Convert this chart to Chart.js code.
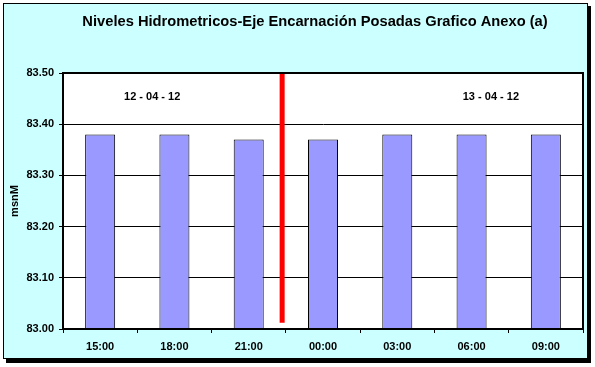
<!DOCTYPE html>
<html>
<head>
<meta charset="utf-8">
<script src="https://cdn.jsdelivr.net/npm/chart.js@4/dist/chart.umd.min.js"></script>
<style>
html,body{margin:0;padding:0;background:#fff;}
#wrap{width:595px;height:367px;position:relative;}
</style>
</head>
<body>
<div id="wrap"><canvas id="c" width="595" height="367"></canvas></div>
<script>
const titleText = 'Niveles Hidrometricos-Eje Encarnación Posadas Grafico Anexo (a)';
const categories = ['15:00', '18:00', '21:00', '00:00', '03:00', '06:00', '09:00'];
const levels = [83.38, 83.38, 83.37, 83.37, 83.38, 83.38, 83.38];
const yTitle = 'msnM';
const dateLabels = ['12 - 04 - 12', '13 - 04 - 12'];
const dateLabelX = [0.70, 5.26];      // category-index units
const dateLabelY = [83.453, 83.453];  // value units
const dividerX = [2.45];              // category-index units (day change)
const dividerRange = [83.5, 83.012];  // value units

const FONT = '"Liberation Sans", Arial, sans-serif';

const decor = {
  id: 'decor',
  beforeDraw(chart) {
    const ctx = chart.ctx;
    const a = chart.chartArea;
    ctx.save();
    ctx.fillStyle = '#ffffff';
    ctx.fillRect(0, 0, chart.width, chart.height);
    ctx.fillStyle = '#000000';
    ctx.fillRect(6, 6, 585, 357);
    ctx.fillStyle = '#CCFFFF';
    ctx.fillRect(3, 3, 585, 356);
    ctx.strokeStyle = '#000000';
    ctx.lineWidth = 1;
    ctx.strokeRect(3.5, 3.5, 584, 355);
    ctx.fillStyle = '#ffffff';
    ctx.fillRect(a.left, a.top, a.right - a.left, a.bottom - a.top);
    ctx.restore();
  },
  afterDatasetsDraw(chart) {
    const ctx = chart.ctx;
    const a = chart.chartArea;
    const xs = chart.scales.x, ys = chart.scales.y;
    ctx.save();
    ctx.strokeStyle = '#FF0000';
    ctx.lineWidth = 5;
    dividerX.forEach(v => {
      const px = xs.getPixelForValue(v);
      ctx.beginPath();
      ctx.moveTo(px, ys.getPixelForValue(dividerRange[0]));
      ctx.lineTo(px, ys.getPixelForValue(dividerRange[1]));
      ctx.stroke();
    });
    ctx.strokeStyle = '#000000';
    ctx.lineWidth = 2;
    ctx.strokeRect(a.left, a.top, a.right - a.left, a.bottom - a.top);
    ctx.fillStyle = '#000000';
    ctx.font = 'bold 11px ' + FONT;
    ctx.textAlign = 'center';
    ctx.textBaseline = 'middle';
    dateLabels.forEach((t, i) => {
      ctx.fillText(t, xs.getPixelForValue(dateLabelX[i]), ys.getPixelForValue(dateLabelY[i]));
    });
    ctx.font = 'bold 14.7px ' + FONT;
    ctx.fillText(titleText, 315, 22);
    ctx.restore();
  }
};

new Chart(document.getElementById('c'), {
  type: 'bar',
  data: {
    labels: categories,
    datasets: [{
      data: levels,
      backgroundColor: '#9999FF',
      borderColor: '#000000',
      borderWidth: 1,
      borderSkipped: 'bottom',
      barPercentage: 0.404,
      categoryPercentage: 1.0
    }]
  },
  options: {
    responsive: false,
    animation: false,
    devicePixelRatio: 1,
    layout: { padding: { top: 73, left: 0, right: 12, bottom: 0 } },
    plugins: { legend: { display: false }, tooltip: { enabled: false }, title: { display: false } },
    scales: {
      x: {
        type: 'category',
        offset: true,
        afterFit(s) { s.height = 38; },
        grid: { offset: true, drawOnChartArea: false, drawTicks: true, tickLength: 4, color: '#000000', lineWidth: 1 },
        border: { display: true, color: '#000000', width: 2 },
        ticks: { color: '#000000', font: { family: FONT, size: 11, weight: 'bold' }, padding: 7, maxRotation: 0 }
      },
      y: {
        min: 83.0,
        max: 83.5,
        afterFit(s) { s.width = 63; },
        grid: { color: '#000000', lineWidth: 1, tickLength: 4, drawTicks: true },
        border: { display: true, color: '#000000', width: 2 },
        ticks: {
          stepSize: 0.1,
          color: '#000000',
          font: { family: FONT, size: 11, weight: 'bold' },
          padding: 5,
          callback: v => Number(v).toFixed(2)
        },
        title: {
          display: true,
          text: yTitle,
          color: '#000000',
          font: { family: FONT, size: 11, weight: 'bold' },
          padding: { top: 8, bottom: 0 }
        }
      }
    }
  },
  plugins: [decor]
});
</script>
</body>
</html>
